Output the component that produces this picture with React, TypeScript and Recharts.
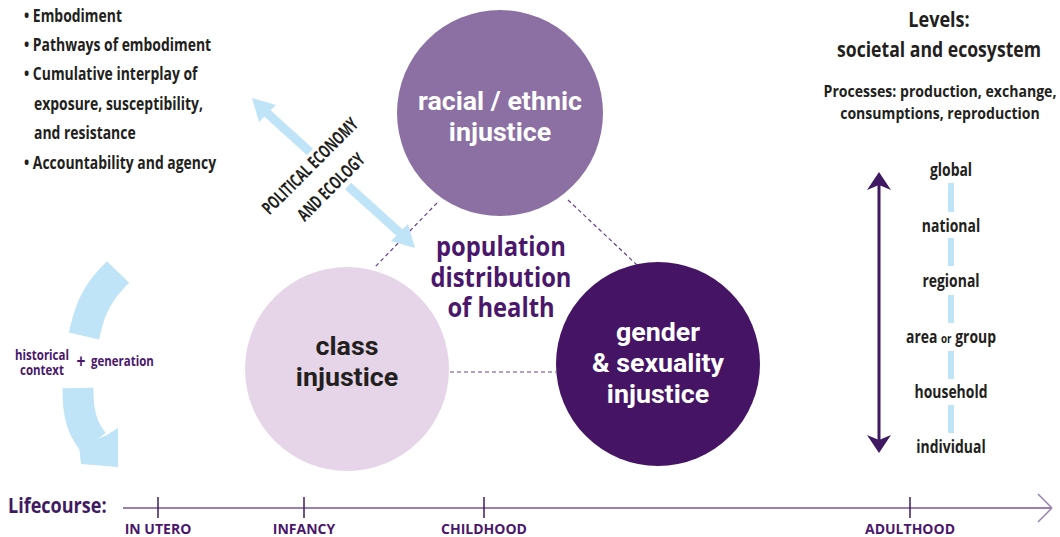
import React from 'react';
import { ComposedChart, XAxis, YAxis, Scatter, ReferenceLine, Line } from 'recharts';

const NARROW = '"Open Sans", "Liberation Sans", sans-serif';
const WIDE = '"Open Sans", "Liberation Sans", sans-serif';
const CIRCLE_FONT = 'Roboto, "Open Sans", sans-serif';
const SQUEEZE = 0.82;

const PURPLE_DARK = '#451464';
const PURPLE_MID = '#8c70a3';
const PURPLE_LIGHT = '#e6d5e8';
const PURPLE_TEXT = '#4a176b';
const INK = '#231f20';
const SKY = '#bfe3f7';

// Circles (centre x, centre y, radius in data units)
const circles = [
  { x: 500, y: 113, r: 103, fill: PURPLE_MID, color: '#ffffff', lines: ['racial / ethnic', 'injustice'], firstOffset: -12 },
  { x: 347, y: 369, r: 102, fill: PURPLE_LIGHT, color: INK, lines: ['class', 'injustice'], firstOffset: -23 },
  { x: 658, y: 364, r: 102, fill: PURPLE_DARK, color: '#ffffff', lines: ['gender', '& sexuality', 'injustice'], firstOffset: -32 },
];

// Dashed connectors between circles
const connectors = [
  [{ x: 437, y: 203 }, { x: 375, y: 267 }],
  [{ x: 568, y: 200 }, { x: 637, y: 265 }],
  [{ x: 450, y: 372 }, { x: 556, y: 372 }],
];

// Bullet list
const bullets = [
  { x: 24, y: 16, t: '• Embodiment' },
  { x: 24, y: 45, t: '• Pathways of embodiment' },
  { x: 24, y: 74, t: '• Cumulative interplay of' },
  { x: 34, y: 104, t: 'exposure, susceptibility,' },
  { x: 34, y: 133, t: 'and resistance' },
  { x: 24, y: 163, t: '• Accountability and agency' },
];

// Centre label
const centreLabel = [
  { x: 501, y: 247, t: 'population' },
  { x: 501, y: 278, t: 'distribution' },
  { x: 501, y: 308, t: 'of health' },
];

// Political economy arrow
const politicalText = [
  { x: 310, y: 166, t: 'POLITICAL ECONOMY' },
  { x: 331, y: 187, t: 'AND ECOLOGY' },
];
const politicalShafts = [
  [{ x: 267, y: 113 }, { x: 310, y: 152 }],
  [{ x: 348, y: 186 }, { x: 400, y: 233 }],
];

// Curved historical arrow
const arcUpper = [
  { x: 118, y: 272 },
  { x: 103, y: 289 },
  { x: 91, y: 311 },
  { x: 84, y: 336 },
];
const arcLower = [
  { x: 78, y: 388 },
  { x: 79, y: 408 },
  { x: 84, y: 427 },
  { x: 93, y: 442 },
];
const historyText = [
  { x: 42, y: 355, t: 'historical', anchor: 'middle', size: 14 },
  { x: 42, y: 370, t: 'context', anchor: 'middle', size: 14 },
  { x: 81, y: 361, t: '+', anchor: 'middle', size: 19 },
  { x: 91, y: 361, t: 'generation', anchor: 'start', size: 14 },
];

// Polygons (arrow heads)
const polygons = [
  { pts: [{ x: 252, y: 98 }, { x: 276, y: 105 }, { x: 259, y: 122 }], fill: SKY },
  { pts: [{ x: 415, y: 248 }, { x: 391, y: 241 }, { x: 408, y: 224 }], fill: SKY },
  { pts: [{ x: 79, y: 446 }, { x: 107, y: 435 }, { x: 118, y: 428 }, { x: 118, y: 467 }, { x: 81, y: 464 }], fill: SKY },
  { pts: [{ x: 879, y: 172 }, { x: 891, y: 190 }, { x: 879, y: 185 }, { x: 867, y: 190 }], fill: '#3f1a62' },
  { pts: [{ x: 879, y: 453 }, { x: 891, y: 435 }, { x: 879, y: 440 }, { x: 867, y: 435 }], fill: '#3f1a62' },
];

// Levels
const levelsTitle = [
  { x: 939, y: 20, t: 'Levels:', size: 21, sx: 0.86 },
  { x: 939, y: 50, t: 'societal and ecosystem', size: 21, sx: 0.84 },
  { x: 940, y: 91, t: 'Processes: production, exchange,', size: 16, sx: 0.88 },
  { x: 940, y: 113, t: 'consumptions, reproduction', size: 16, sx: 0.88 },
];
const levels = [
  { x: 951, y: 170, parts: [{ t: 'global' }] },
  { x: 951, y: 226, parts: [{ t: 'national' }] },
  { x: 951, y: 281, parts: [{ t: 'regional' }] },
  { x: 951, y: 337, parts: [{ t: 'area ' }, { t: 'or', size: 12 }, { t: ' group' }] },
  { x: 951, y: 392, parts: [{ t: 'household' }] },
  { x: 951, y: 447, parts: [{ t: 'individual' }] },
];
const levelDashes = [
  [183, 212],
  [238, 266],
  [295, 323],
  [351, 379],
  [405, 433],
];

// Lifecourse
const lifeStages = [
  { x: 158, t: 'IN UTERO' },
  { x: 304, t: 'INFANCY' },
  { x: 484, t: 'CHILDHOOD' },
  { x: 910, t: 'ADULTHOOD' },
];
const lifeTitle = [{ x: 8, y: 505, t: 'Lifecourse:' }];

const TextShape = (props: any) => {
  const { cx, cy, payload } = props;
  if (cx == null || cy == null) return null;
  const p = payload;
  const size = p.size ?? 17;
  const sx = p.sx ?? SQUEEZE;
  const tf = `translate(${cx} ${cy}) rotate(${p.rotate ?? 0}) translate(0 ${size * 0.35}) scale(${sx} 1)`;
  return (
    <text
      x={0}
      y={0}
      transform={tf}
      textAnchor={p.anchor ?? 'middle'}
      fontSize={size}
      fontWeight={700}
      fill={p.color ?? INK}
      fontFamily={p.font ?? NARROW}
    >
      {p.parts
        ? p.parts.map((pt: any, i: number) => (
            <tspan key={i} fontSize={pt.size ?? size}>
              {pt.t}
            </tspan>
          ))
        : p.t}
    </text>
  );
};

const CircleShape = (props: any) => {
  const { cx, cy, payload } = props;
  if (cx == null || cy == null) return null;
  return (
    <g>
      <circle cx={cx} cy={cy} r={payload.r} fill={payload.fill} />
      <text
        x={0}
        y={0}
        transform={`translate(${cx} ${cy + payload.firstOffset + 9}) scale(1.03 1)`}
        textAnchor="middle"
        fontSize={26}
        fontWeight={700}
        fill={payload.color}
        fontFamily={CIRCLE_FONT}
      >
        {payload.lines.map((l: string, i: number) => (
          <tspan key={i} x={0} dy={i === 0 ? 0 : 31}>
            {l}
          </tspan>
        ))}
      </text>
    </g>
  );
};

const PolyShape = (props: any) => {
  const { cx, cy, payload } = props;
  if (cx == null || cy == null) return null;
  const ox = cx - payload.x;
  const oy = cy - payload.y;
  const d = payload.pts.map((pt: any) => `${pt.x + ox},${pt.y + oy}`).join(' ');
  return <polygon points={d} fill={payload.fill} />;
};

const polyData = polygons.map((p) => ({ ...p, x: p.pts[0].x, y: p.pts[0].y }));

const allText = [
  ...bullets.map((b) => ({ ...b, anchor: 'start', size: 17, color: INK })),
  ...centreLabel.map((c) => ({ ...c, size: 27, color: PURPLE_TEXT, sx: 0.88 })),
  ...politicalText.map((c) => ({ ...c, size: 18, color: INK, rotate: -45, sx: 0.67 })),
  ...historyText.map((c) => ({ ...c, color: PURPLE_TEXT })),
  ...levelsTitle.map((c) => ({ ...c, color: INK })),
  ...levels.map((c) => ({ ...c, size: 17, color: INK })),
  ...lifeTitle.map((c) => ({ ...c, anchor: 'start', size: 22, color: '#3f1a62' })),
  ...lifeStages.map((c) => ({ ...c, y: 529, size: 14, color: PURPLE_TEXT, font: WIDE, sx: 1 })),
];

export default function App() {
  return (
    <div style={{ position: 'absolute', left: 0, top: 0, width: 1060, height: 537, background: '#ffffff' }}>
      <ComposedChart width={1060} height={537} margin={{ top: 0, right: 0, bottom: 0, left: 0 }}>
        <XAxis type="number" dataKey="x" domain={[0, 1060]} allowDataOverflow hide />
        <YAxis type="number" domain={[0, 537]} reversed allowDataOverflow hide />

        {connectors.map((seg, i) => (
          <ReferenceLine key={`c${i}`} segment={seg} stroke="#6b3d8f" strokeWidth={1.2} strokeDasharray="4 3" ifOverflow="visible" />
        ))}
        {politicalShafts.map((seg, i) => (
          <ReferenceLine key={`p${i}`} segment={seg} stroke={SKY} strokeWidth={9} ifOverflow="visible" />
        ))}
        {levelDashes.map(([a, b], i) => (
          <ReferenceLine key={`d${i}`} segment={[{ x: 951, y: a }, { x: 951, y: b }]} stroke={SKY} strokeWidth={6} ifOverflow="visible" />
        ))}
        <ReferenceLine segment={[{ x: 879, y: 182 }, { x: 879, y: 443 }]} stroke="#3f1a62" strokeWidth={3} ifOverflow="visible" />
        <ReferenceLine segment={[{ x: 123, y: 508 }, { x: 1051, y: 508 }]} stroke="#9b80b3" strokeWidth={2} ifOverflow="visible" />
        <ReferenceLine segment={[{ x: 1038, y: 494 }, { x: 1052, y: 508 }]} stroke="#9b80b3" strokeWidth={1.5} ifOverflow="visible" />
        <ReferenceLine segment={[{ x: 1052, y: 508 }, { x: 1038, y: 522 }]} stroke="#9b80b3" strokeWidth={1.5} ifOverflow="visible" />
        {lifeStages.map((s, i) => (
          <ReferenceLine key={`t${i}`} segment={[{ x: s.x, y: 497 }, { x: s.x, y: 518 }]} stroke="#3f1a62" strokeWidth={1.5} ifOverflow="visible" />
        ))}

        <Line data={arcUpper} dataKey="y" type="natural" stroke={SKY} strokeWidth={31} dot={false} activeDot={false} isAnimationActive={false} />
        <Line data={arcLower} dataKey="y" type="natural" stroke={SKY} strokeWidth={31} dot={false} activeDot={false} isAnimationActive={false} />

        <Scatter data={polyData} dataKey="y" shape={PolyShape} isAnimationActive={false} />
        <Scatter data={circles} dataKey="y" shape={CircleShape} isAnimationActive={false} />
        <Scatter data={allText} dataKey="y" shape={TextShape} isAnimationActive={false} />
      </ComposedChart>
    </div>
  );
}
